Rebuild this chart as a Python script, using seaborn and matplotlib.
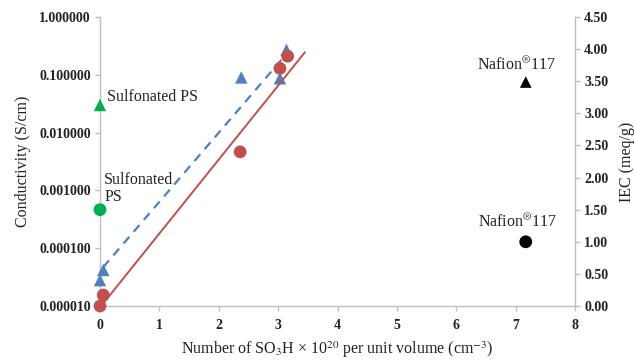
import matplotlib
matplotlib.use("Agg")
import matplotlib.pyplot as plt
import matplotlib.ticker as mticker
import seaborn as sns

# Sulfonated membranes: SO3H density (x 10^20 cm^-3)
so3h_cond = [0.0, 0.055, 2.38, 3.03, 3.14]
conductivity = [2.8e-5, 4.2e-5, 0.090, 0.087, 0.27]          # S/cm
so3h_iec = [0.0, 0.055, 2.36, 3.03, 3.16]
iec = [0.0, 0.17, 2.40, 3.70, 3.89]                           # meq/g

# Trend lines
cond_fit_x = [0.055, 3.14]
cond_fit_y = [4.7e-5, 0.23]
iec_fit_x = [0.02, 3.45]
iec_fit_y = [0.0, 3.95]

# Reference materials
ps_x = [0.0]
ps_cond = [0.030]
ps_iec = [1.50]
nafion_x = [7.17]
nafion_cond = [0.075]
nafion_iec = [1.00]

y_left_ticks = [1e-5, 1e-4, 1e-3, 1e-2, 1e-1, 1.0]
y_right_ticks = [0.0, 0.5, 1.0, 1.5, 2.0, 2.5, 3.0, 3.5, 4.0, 4.5]
x_ticks = [0, 1, 2, 3, 4, 5, 6, 7, 8]

RED = "#C0504D"
BLUE = "#4F81BD"
GREEN = "#00B050"
SPINE = "#BFBFBF"
TEXT = "#222222"

sns.set_theme(style="ticks")
plt.rcParams["font.family"] = ["Liberation Serif", "DejaVu Serif"]
plt.rcParams["mathtext.fontset"] = "stix"

fig = plt.figure(figsize=(6.34, 3.62), dpi=100)
ax = fig.add_axes([0.1577, 0.1547, 0.7493, 0.7983])
ax2 = ax.twinx()

# Conductivity on the left (log) axis
sns.lineplot(x=cond_fit_x, y=cond_fit_y, ax=ax, color=BLUE, lw=1.6,
             linestyle=(0, (4, 3)), legend=False)
sns.scatterplot(x=so3h_cond, y=conductivity, ax=ax, marker="^", s=80,
                color=BLUE, edgecolor="none", zorder=3, clip_on=False)
sns.scatterplot(x=ps_x, y=ps_cond, ax=ax, marker="^", s=80,
                color=GREEN, edgecolor="none", zorder=3, clip_on=False)
sns.scatterplot(x=nafion_x, y=nafion_cond, ax=ax, marker="^", s=70,
                color="black", edgecolor="none", zorder=3, clip_on=False)

# IEC on the right (linear) axis
sns.lineplot(x=iec_fit_x, y=iec_fit_y, ax=ax2, color=RED, lw=1.4, legend=False)
sns.scatterplot(x=so3h_iec, y=iec, ax=ax2, marker="o", s=85,
                color=RED, edgecolor="none", zorder=3, clip_on=False)
sns.scatterplot(x=ps_x, y=ps_iec, ax=ax2, marker="o", s=85,
                color=GREEN, edgecolor="none", zorder=3, clip_on=False)
sns.scatterplot(x=nafion_x, y=nafion_iec, ax=ax2, marker="o", s=85,
                color="black", edgecolor="none", zorder=3, clip_on=False)

ax.set_yscale("log")
ax.set_xlim(0, 8)
ax.set_ylim(1e-5, 1.0)
ax2.set_ylim(0, 4.5)
ax.set_xticks(x_ticks)
ax.set_yticks(y_left_ticks)
ax.yaxis.set_minor_locator(mticker.NullLocator())
ax.yaxis.set_major_formatter(mticker.FormatStrFormatter("%.6f"))
ax2.set_yticks(y_right_ticks)
ax2.yaxis.set_major_formatter(mticker.FormatStrFormatter("%.2f"))

for a in (ax, ax2):
    for side in ("left", "right", "bottom"):
        a.spines[side].set_color(SPINE)
        a.spines[side].set_linewidth(1.0)
    a.spines["top"].set_visible(False)
    a.tick_params(length=3.5, width=1.0, color=SPINE, labelsize=10,
                  labelcolor=TEXT, pad=3)
    for lab in a.get_xticklabels() + a.get_yticklabels():
        lab.set_fontweight("bold")
ax.tick_params(axis="x", pad=6)
ax.spines["right"].set_visible(False)
ax2.spines["left"].set_visible(False)
ax2.spines["bottom"].set_visible(False)

ax.set_xlabel(r"Number of SO$_3$H × 10$^{20}$ per unit volume (cm$^{-3}$)",
              fontsize=11.5, color=TEXT, labelpad=5)
ax.set_ylabel("Conductivity (S/cm)", fontsize=11.5, color=TEXT, labelpad=6)
ax2.set_ylabel("IEC (meq/g)", fontsize=11.5, color=TEXT, labelpad=8)

ax.text(0.12, 0.042, "Sulfonated PS", fontsize=11.5, color=TEXT,
        ha="left", va="center")
ax.text(0.07, 1.08e-3, "Sulfonated\nPS", fontsize=11.5, color=TEXT,
        ha="left", va="center", linespacing=1.05)
ax.text(7.02, 0.148, r"Nafion$^{\circledR}$117", fontsize=11.5,
        color=TEXT, ha="center", va="center")
ax2.text(7.04, 1.31, r"Nafion$^{\circledR}$117", fontsize=11.5,
         color=TEXT, ha="center", va="center")

fig.savefig("out.png", dpi=100)
